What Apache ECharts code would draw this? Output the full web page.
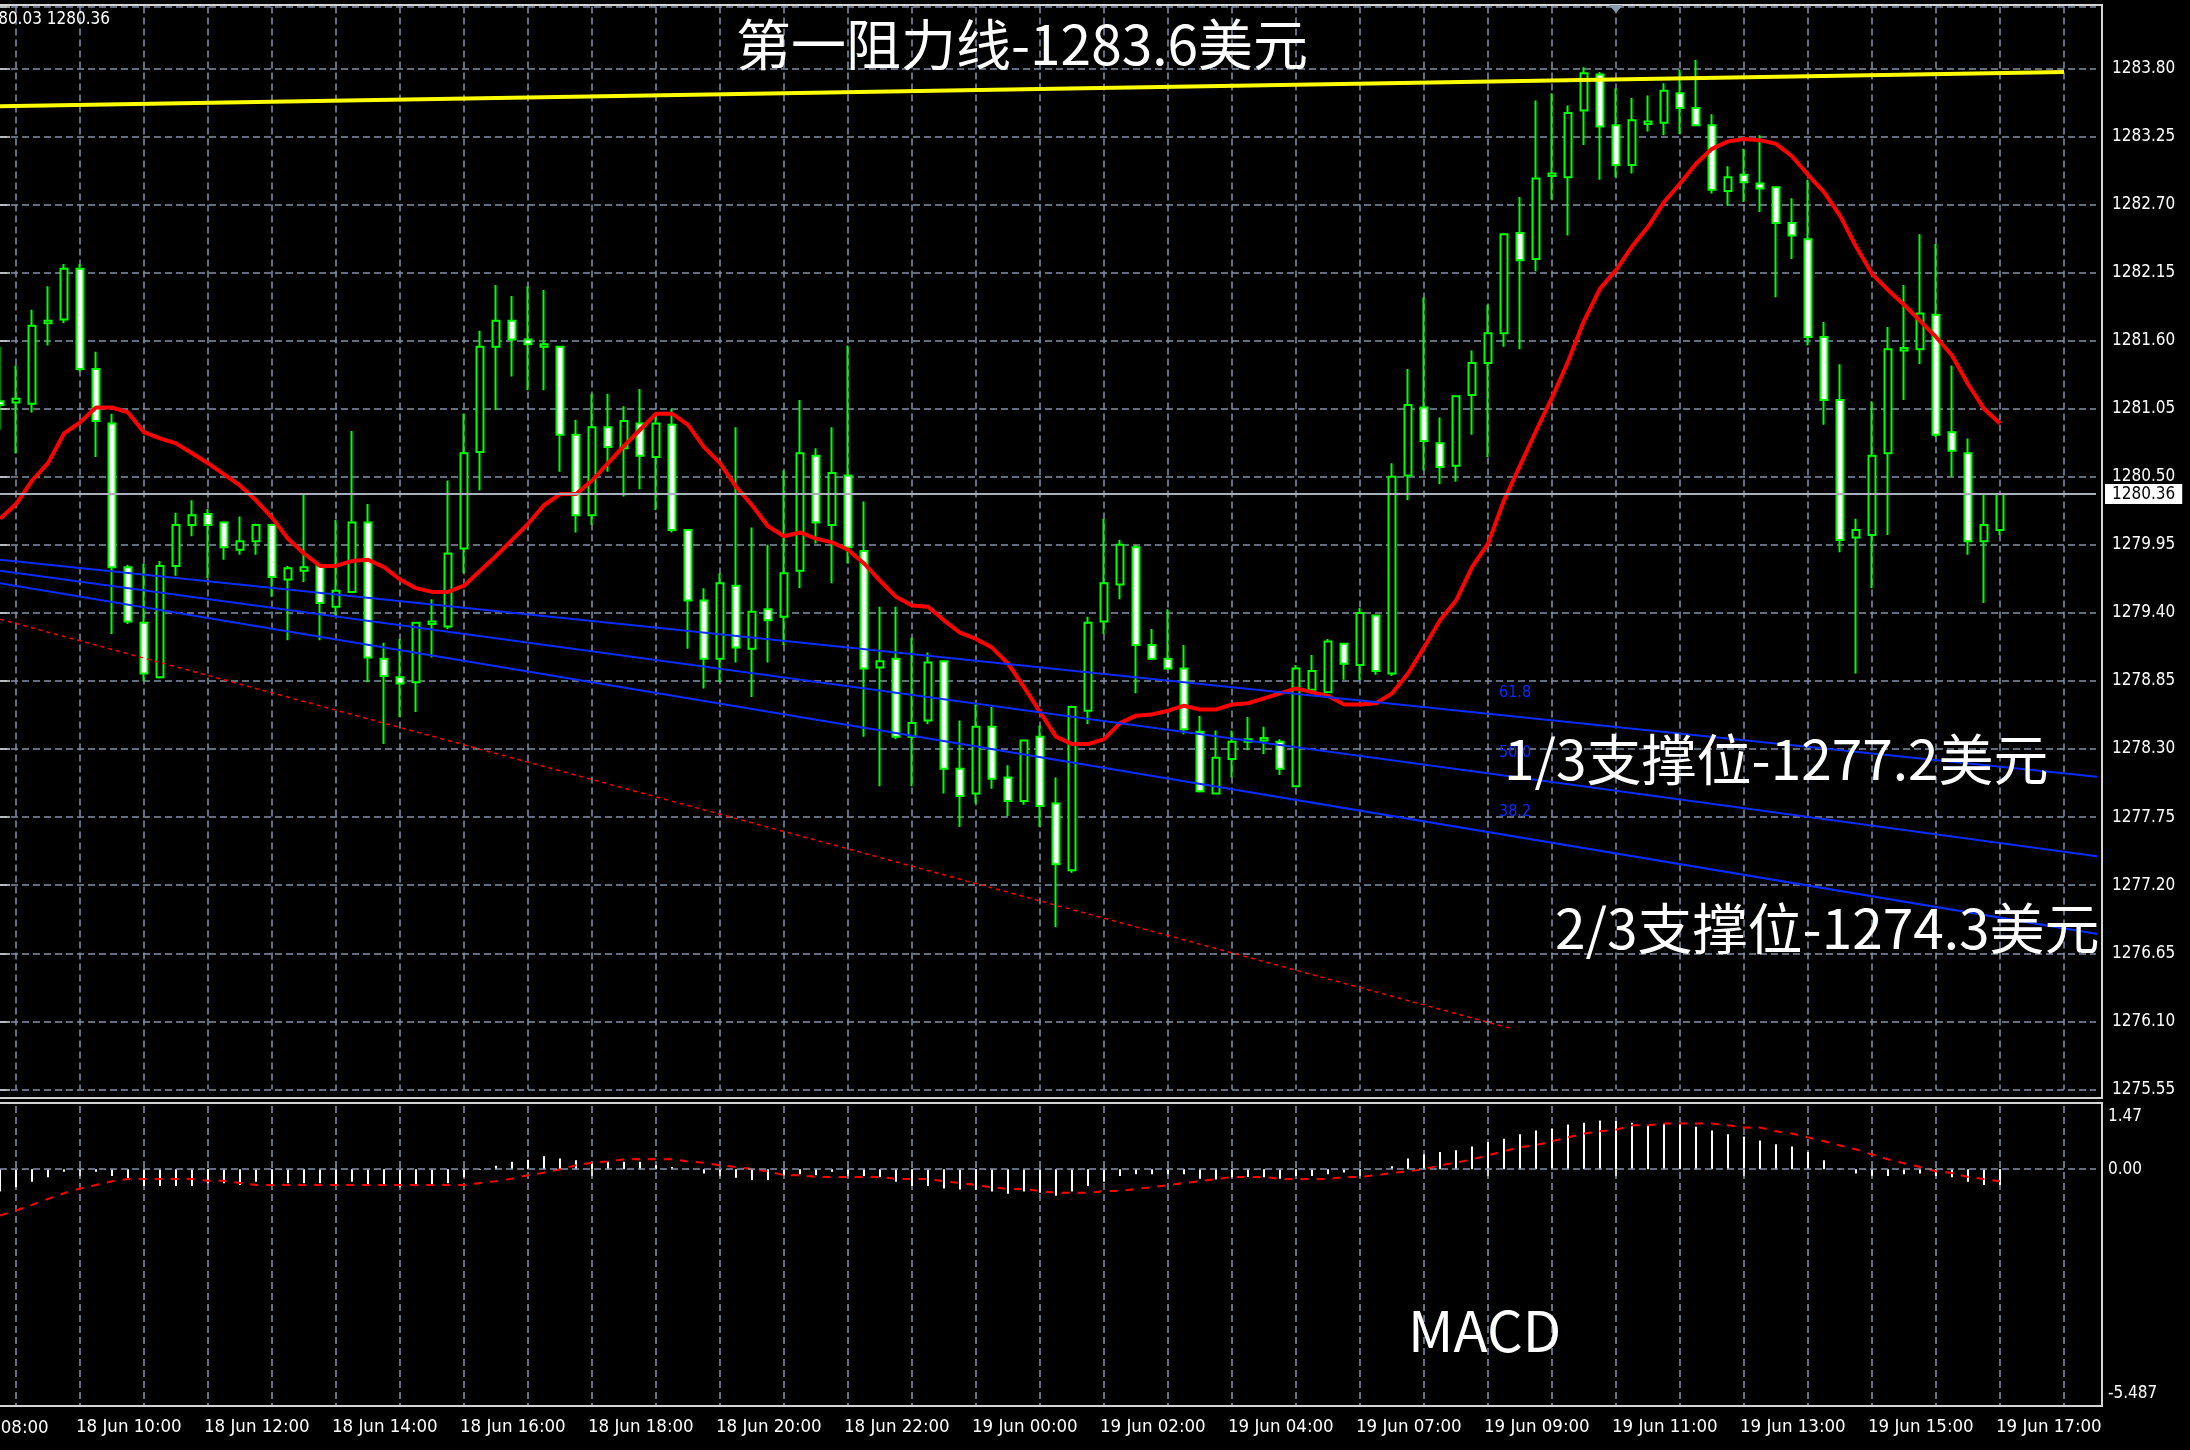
<!DOCTYPE html>
<html><head><meta charset="utf-8">
<script src="https://cdn.jsdelivr.net/npm/echarts@6/dist/echarts.min.js"></script>
<style>html,body{margin:0;padding:0;background:#000;overflow:hidden}#c{width:2190px;height:1450px}</style>
</head><body><div id="c"></div>
<script>
// ---------- data (XAUUSD M15) ----------
const tickLabels = ['18 Jun 10:00','18 Jun 12:00','18 Jun 14:00','18 Jun 16:00','18 Jun 18:00','18 Jun 20:00','18 Jun 22:00','19 Jun 00:00','19 Jun 02:00','19 Jun 04:00','19 Jun 07:00','19 Jun 09:00','19 Jun 11:00','19 Jun 13:00','19 Jun 15:00','19 Jun 17:00'];
const firstTickBar = 5, barsPerTick = 8, gridEveryBars = 4, firstGridBar = 1;
const totalSlots = 132;

const opens = [1281.11,1281.10,1281.09,1281.74,1281.77,1282.18,1281.37,1280.93,1279.77,1279.32,
1278.88,1279.78,1280.11,1280.20,1280.13,1279.91,1279.98,1280.11,1279.67,1279.74,
1279.78,1279.45,1279.57,1280.13,1279.03,1278.88,1278.84,1279.31,1279.29,1279.92,
1280.70,1281.55,1281.76,1281.61,1281.55,1281.55,1280.84,1280.19,1280.90,1280.73,
1280.93,1280.66,1280.92,1280.07,1279.50,1279.03,1279.62,1279.11,1279.43,1279.37,
1279.74,1280.67,1280.11,1280.51,1279.90,1278.96,1279.03,1278.40,1278.53,1279.01,
1278.14,1277.94,1278.48,1278.07,1277.88,1278.40,1277.86,1277.32,1278.61,1279.33,
1279.63,1279.93,1279.14,1279.03,1278.95,1278.44,1277.94,1278.22,1278.36,1278.37,
1278.36,1278.00,1278.78,1278.76,1279.15,1278.98,1279.38,1278.91,1280.51,1281.06,
1280.77,1280.59,1281.16,1281.42,1281.66,1282.47,1282.26,1282.93,1282.92,1283.46,
1283.75,1283.34,1283.02,1283.35,1283.36,1283.60,1283.48,1283.34,1282.81,1282.94,
1282.87,1282.84,1282.55,1282.42,1281.63,1281.12,1280.01,1280.03,1280.69,1281.52,
1281.53,1281.81,1280.86,1280.69,1279.98,1280.07];
const highs = [1281.55,1281.40,1281.85,1282.04,1282.22,1282.22,1281.51,1281.01,1279.79,1279.80,
1279.82,1280.21,1280.31,1280.24,1280.13,1280.18,1280.12,1280.11,1279.78,1280.37,
1279.78,1280.15,1280.87,1280.28,1279.16,1279.19,1279.32,1279.51,1280.47,1281.01,
1281.68,1282.05,1281.96,1282.04,1282.01,1281.55,1280.96,1281.17,1281.17,1281.07,
1281.21,1281.01,1281.05,1280.07,1279.60,1279.72,1280.90,1280.09,1279.95,1280.55,
1281.12,1280.73,1280.90,1281.56,1280.30,1279.45,1279.45,1279.20,1279.08,1279.01,
1278.53,1278.67,1278.64,1278.17,1278.37,1278.49,1278.07,1278.65,1279.37,1280.16,
1279.99,1279.95,1279.27,1279.43,1279.14,1278.57,1278.45,1278.45,1278.56,1278.48,
1278.38,1278.98,1279.06,1279.19,1279.15,1279.44,1279.38,1280.61,1281.37,1281.95,
1280.98,1281.15,1281.52,1281.89,1282.46,1282.76,1283.54,1283.60,1283.50,1283.81,
1283.77,1283.64,1283.56,1283.58,1283.68,1283.79,1283.87,1283.43,1283.01,1283.15,
1283.26,1282.84,1282.75,1282.90,1281.75,1281.41,1280.16,1281.11,1281.71,1282.05,
1282.46,1282.38,1281.40,1280.81,1280.37,1280.37];
const lows = [1280.88,1280.69,1281.02,1281.56,1281.74,1281.35,1280.66,1279.23,1279.31,1278.85,
1278.87,1279.70,1280.02,1279.68,1279.83,1279.87,1279.87,1279.53,1279.18,1279.65,
1279.18,1279.37,1279.56,1278.84,1278.34,1278.56,1278.60,1279.04,1279.27,1279.72,
1280.39,1281.04,1281.31,1281.20,1281.20,1280.54,1280.05,1280.11,1280.54,1280.34,
1280.40,1280.23,1280.05,1279.11,1278.79,1278.84,1279.00,1278.72,1279.00,1279.14,
1279.60,1279.96,1279.64,1279.80,1278.40,1278.00,1278.38,1278.00,1278.50,1277.94,
1277.67,1277.86,1277.98,1277.76,1277.85,1277.67,1276.86,1277.30,1278.50,1279.23,
1279.51,1278.75,1279.02,1278.94,1278.42,1277.95,1277.94,1278.07,1278.29,1278.26,
1278.09,1278.00,1278.75,1278.75,1278.86,1278.86,1278.90,1278.89,1280.31,1280.55,
1280.44,1280.46,1280.84,1280.66,1281.55,1281.53,1282.16,1282.74,1282.45,1283.18,
1282.90,1282.92,1282.95,1283.29,1283.26,1283.27,1283.34,1282.79,1282.69,1282.72,
1282.64,1281.95,1282.26,1281.56,1280.92,1279.89,1278.91,1279.60,1280.03,1281.12,
1281.41,1280.82,1280.50,1279.87,1279.48,1280.03];
const closes = [1281.08,1281.13,1281.72,1281.76,1282.18,1281.37,1280.95,1279.77,1279.33,1278.91,
1279.78,1280.11,1280.19,1280.11,1279.93,1279.98,1280.11,1279.69,1279.76,1279.77,
1279.48,1279.58,1280.13,1279.04,1278.89,1278.83,1279.32,1279.33,1279.88,1280.69,
1281.55,1281.76,1281.61,1281.57,1281.57,1280.84,1280.19,1280.90,1280.74,1280.95,
1280.67,1280.93,1280.07,1279.50,1279.03,1279.64,1279.12,1279.41,1279.34,1279.72,
1280.69,1280.13,1280.53,1279.93,1278.95,1279.01,1278.40,1278.51,1279.00,1278.14,
1277.92,1278.48,1278.06,1277.88,1278.37,1277.84,1277.37,1278.64,1279.32,1279.64,
1279.95,1279.14,1279.03,1278.95,1278.46,1277.96,1278.23,1278.36,1278.38,1278.39,
1278.14,1278.95,1278.93,1279.17,1278.99,1279.40,1278.93,1280.50,1281.08,1280.79,
1280.58,1281.15,1281.42,1281.66,1282.46,1282.25,1282.91,1282.95,1283.44,1283.76,
1283.33,1283.02,1283.38,1283.37,1283.62,1283.48,1283.34,1282.82,1282.92,1282.88,
1282.83,1282.55,1282.45,1281.63,1281.12,1279.99,1280.07,1280.67,1281.53,1281.54,
1281.82,1280.84,1280.71,1279.98,1280.11,1280.36];
const maValues = [1280.16,1280.28,1280.47,1280.61,1280.85,1280.94,1281.06,1281.06,1281.02,1280.86,
1280.81,1280.77,1280.69,1280.61,1280.52,1280.43,1280.31,1280.17,1280.00,1279.88,
1279.78,1279.78,1279.82,1279.83,1279.77,1279.67,1279.60,1279.57,1279.57,1279.62,
1279.74,1279.86,1279.99,1280.12,1280.27,1280.36,1280.36,1280.47,1280.61,1280.75,
1280.88,1281.01,1281.01,1280.92,1280.74,1280.61,1280.42,1280.27,1280.10,1280.02,
1280.05,1280.00,1279.97,1279.91,1279.80,1279.66,1279.53,1279.46,1279.45,1279.34,
1279.24,1279.19,1279.12,1278.99,1278.80,1278.60,1278.40,1278.34,1278.34,1278.38,
1278.51,1278.57,1278.58,1278.61,1278.65,1278.62,1278.62,1278.66,1278.67,1278.71,
1278.75,1278.79,1278.76,1278.73,1278.66,1278.66,1278.67,1278.75,1278.91,1279.12,
1279.34,1279.50,1279.77,1279.96,1280.31,1280.59,1280.87,1281.14,1281.43,1281.76,
1282.02,1282.17,1282.36,1282.52,1282.72,1282.87,1283.03,1283.15,1283.21,1283.23,
1283.22,1283.19,1283.09,1282.94,1282.80,1282.61,1282.36,1282.14,1282.01,1281.89,
1281.76,1281.63,1281.48,1281.25,1281.05,1280.93];
const macdHist = [-0.52,-0.42,-0.29,-0.19,-0.06,-0.04,-0.06,-0.16,-0.22,-0.39,
-0.39,-0.39,-0.39,-0.33,-0.33,-0.37,-0.29,-0.37,-0.33,-0.33,
-0.33,-0.37,-0.29,-0.37,-0.37,-0.42,-0.37,-0.37,-0.33,-0.19,
-0.02,0.08,0.17,0.22,0.30,0.25,0.21,0.13,0.17,0.17,
0.17,0.09,0.05,0.01,-0.10,-0.06,-0.20,-0.25,-0.25,-0.14,
-0.12,-0.14,-0.06,-0.10,-0.16,-0.18,-0.29,-0.39,-0.39,-0.45,
-0.47,-0.48,-0.52,-0.57,-0.52,-0.55,-0.62,-0.52,-0.39,-0.29,
-0.16,-0.12,-0.12,-0.12,-0.12,-0.22,-0.24,-0.19,-0.18,-0.19,
-0.22,-0.16,-0.16,-0.12,-0.08,-0.02,0.00,0.07,0.25,0.35,
0.40,0.44,0.53,0.63,0.71,0.81,0.90,0.94,1.04,1.08,
1.13,1.12,1.08,1.02,1.07,1.05,0.99,0.90,0.81,0.76,
0.67,0.58,0.53,0.40,0.21,0.01,-0.10,-0.14,-0.16,-0.12,
-0.10,-0.16,-0.19,-0.29,-0.37,-0.37];
const macdSignal = [-1.08,-0.96,-0.83,-0.69,-0.56,-0.45,-0.37,-0.28,-0.23,-0.23,
-0.23,-0.23,-0.23,-0.27,-0.27,-0.32,-0.37,-0.37,-0.37,-0.37,
-0.37,-0.37,-0.37,-0.37,-0.37,-0.37,-0.37,-0.37,-0.37,-0.37,
-0.32,-0.28,-0.22,-0.14,-0.08,0.00,0.09,0.15,0.18,0.23,
0.23,0.23,0.23,0.18,0.15,0.09,0.05,0.00,-0.05,-0.14,
-0.14,-0.18,-0.18,-0.18,-0.18,-0.18,-0.23,-0.23,-0.23,-0.28,
-0.32,-0.37,-0.42,-0.46,-0.46,-0.51,-0.55,-0.55,-0.55,-0.51,
-0.51,-0.46,-0.42,-0.37,-0.32,-0.28,-0.23,-0.18,-0.18,-0.18,
-0.23,-0.23,-0.23,-0.23,-0.18,-0.18,-0.14,-0.09,-0.05,0.00,
0.09,0.15,0.23,0.32,0.42,0.51,0.56,0.65,0.74,0.83,
0.88,0.92,1.02,1.02,1.06,1.06,1.06,1.06,1.02,0.97,
0.97,0.88,0.83,0.74,0.65,0.55,0.46,0.34,0.23,0.14,
0.05,-0.05,-0.09,-0.18,-0.23,-0.28];
// drawn objects: [barIndex, price] end points
const resistanceLine = [[0, 1283.495], [129, 1283.77]];
const fanLine618 = [[0, 1279.83], [131.375, 1278.073]];
const fanLine500 = [[0, 1279.74], [131.375, 1277.428]];
const fanLine382 = [[0, 1279.64], [131.375, 1276.80]];
const fanBaseLine = [[0, 1279.35], [94.5, 1276.04]];
const fanLabelBar = 93.69;
const currentPrice = 1280.36;
const priceTicks = { first: 1275.55, step: 0.55, top: 1284.30 };
const macdTicks = [-5.487, 0, 1.47];
const infoLine = 'XAUUSD,M15  1280.07 1280.37 1280.03 1280.36';

// ---------- build ----------
const base = priceTicks.first;
const cats = Array.from({length: totalSlots}, (_, i) => 'b' + i);
const candleData = opens.map((o, i) => [o - base, closes[i] - base, lows[i] - base, highs[i] - base]);
const sh = arr => arr.map(p => [p[0], p[1] - base]);
const lerp = (ln, x) => ln[0][1] + (ln[1][1] - ln[0][1]) * (x - ln[0][0]) / (ln[1][0] - ln[0][0]);

const axisFont = "'DejaVu Sans Condensed','DejaVu Sans',sans-serif";
const cjkFont = "'Noto Sans CJK SC','Noto Sans',sans-serif";
const gridColor = '#8293a6';
const borderColor = '#d4d4d4';
const fanBlue = '#0a2cff';
const gridFn = idx => idx >= 0 && (idx - firstGridBar) % gridEveryBars === 0;
const tickFn = idx => idx >= firstTickBar && (idx - firstTickBar) % barsPerTick === 0 && (idx - firstTickBar) / barsPerTick < tickLabels.length;

const GL = 0, GW = 16 * (totalSlots - 1);   // 16 px per bar
const chart = echarts.init(document.getElementById('c'), null, {renderer: 'canvas'});

function fanSeries(name, line, label) {
  return {
    name, type: 'line', xAxisIndex: 2, yAxisIndex: 0, data: sh(line), symbol: 'none', silent: true,
    lineStyle: {color: fanBlue, width: 2}, z: 4, clip: false,
    markPoint: {
      symbol: 'circle', symbolSize: 0, silent: true,
      data: [{coord: [fanLabelBar, lerp(line, fanLabelBar) - base],
        label: {show: true, formatter: label, position: 'inside', align: 'left', verticalAlign: 'middle', offset: [0, -22],
          color: fanBlue, fontSize: 16, fontFamily: axisFont}}]
    }
  };
}

const option = {
  backgroundColor: '#000000',
  animation: false,
  grid: [
    {left: GL, top: 6.5, width: GW, height: 1082.9},
    {left: GL, top: 1106, width: GW, height: 299}
  ],
  xAxis: [
    {type: 'category', gridIndex: 0, data: cats, boundaryGap: false,
      axisLine: {show: false}, axisTick: {show: false}, axisLabel: {show: false},
      splitLine: {show: true, interval: gridFn, lineStyle: {color: gridColor, type: [7, 4], width: 1.5}}},
    {type: 'category', gridIndex: 1, data: cats, boundaryGap: false,
      axisLine: {show: false},
      axisTick: {show: true, interval: tickFn, length: 7, lineStyle: {color: borderColor, width: 2}},
      axisLabel: {show: true, interval: tickFn, align: 'left', margin: 13, color: '#ffffff', fontSize: 18.5, fontFamily: axisFont,
        formatter: (v, idx) => { const k = (idx - firstTickBar) / barsPerTick; return '{t|' + (tickLabels[k] || '') + '}'; },
        rich: {t: {color: '#ffffff', fontSize: 18.5, fontFamily: axisFont, padding: [0, 0, 0, -4]}}},
      splitLine: {show: true, interval: gridFn, lineStyle: {color: gridColor, type: [7, 4], width: 1.5}}},
    {type: 'value', gridIndex: 0, min: 0, max: totalSlots - 1, show: false}
  ],
  yAxis: [
    {type: 'value', gridIndex: 0, position: 'right', min: 0, max: priceTicks.top - base, interval: priceTicks.step,
      axisLine: {show: false},
      axisTick: {show: true, length: 10, lineStyle: {color: borderColor, width: 1.5}},
      axisLabel: {color: '#ffffff', fontSize: 17, fontFamily: axisFont, margin: 16,
        formatter: v => (v > priceTicks.top - base - 0.3) ? '' : (v + base).toFixed(2)},
      splitLine: {show: true, lineStyle: {color: gridColor, type: [7, 4], width: 1.5}}},
    {type: 'value', gridIndex: 1, position: 'right', min: macdTicks[0], max: macdTicks[2],
      axisLine: {show: false}, axisTick: {show: false}, splitLine: {show: false},
      axisLabel: {customValues: macdTicks, showMinLabel: true, showMaxLabel: true, color: '#ffffff', fontSize: 17, fontFamily: axisFont, margin: 12,
        formatter: v => Math.abs(v - macdTicks[2]) < 1e-6 ? '{a|' + macdTicks[2].toFixed(2) + '}' :
          (Math.abs(v) < 1e-6 ? '0.00' : '{b|' + macdTicks[0].toFixed(3) + '}'),
        rich: {a: {padding: [22, 0, 0, 0], color: '#fff', fontSize: 17, fontFamily: axisFont},
               b: {padding: [0, 0, 22, 0], color: '#fff', fontSize: 17, fontFamily: axisFont}}}}
  ],
  series: [
    {name: 'price', type: 'candlestick', xAxisIndex: 0, yAxisIndex: 0, data: candleData, barWidth: 7, z: 2,
      itemStyle: {color: '#000000', color0: '#ffffff', borderColor: '#00ff00', borderColor0: '#00ff00', borderColorDoji: '#00ff00', borderWidth: 2},
      markLine: {symbol: 'none', silent: true, animation: false,
        lineStyle: {color: '#a7afb8', width: 2, type: 'solid'},
        label: {show: true, position: 'end', distance: 9, formatter: currentPrice.toFixed(2), backgroundColor: '#ffffff', color: '#000000',
          padding: [2, 7, 1, 7], fontSize: 17, fontFamily: axisFont},
        data: [{yAxis: currentPrice - base}]}},
    {name: 'MA', type: 'line', xAxisIndex: 0, yAxisIndex: 0, data: maValues.map(v => v - base), symbol: 'none', z: 3,
      lineStyle: {color: '#ff0000', width: 4}},
    fanSeries('fan61.8', fanLine618, '61.8'),
    fanSeries('fan50.0', fanLine500, '50.0'),
    fanSeries('fan38.2', fanLine382, '38.2'),
    {name: 'fanBase', type: 'line', xAxisIndex: 2, yAxisIndex: 0, data: sh(fanBaseLine), symbol: 'none', z: 4,
      lineStyle: {color: '#ff0000', width: 1.5, type: [4, 4]}},
    {name: 'resistance', type: 'line', xAxisIndex: 2, yAxisIndex: 0, data: sh(resistanceLine), symbol: 'none', z: 4,
      lineStyle: {color: '#ffff00', width: 4}},
    {name: 'MACD', type: 'bar', xAxisIndex: 1, yAxisIndex: 1, data: macdHist, barWidth: 2, itemStyle: {color: '#ffffff'}, z: 2,
      markLine: {symbol: 'none', silent: true, label: {show: false}, lineStyle: {color: gridColor, type: [7, 4], width: 1.5}, data: [{yAxis: 0}]}},
    {name: 'Signal', type: 'line', xAxisIndex: 1, yAxisIndex: 1, data: macdSignal, symbol: 'none', z: 3,
      lineStyle: {color: '#ff0000', width: 2, type: [8, 8]}}
  ],
  graphic: [
    {type: 'line', z: 100, shape: {x1: 0, y1: 5, x2: 2103, y2: 5}, style: {stroke: borderColor, lineWidth: 2}},
    {type: 'line', z: 100, shape: {x1: 2102, y1: 4, x2: 2102, y2: 1099}, style: {stroke: borderColor, lineWidth: 2}},
    {type: 'line', z: 100, shape: {x1: 0, y1: 1098, x2: 2103, y2: 1098}, style: {stroke: borderColor, lineWidth: 2}},
    {type: 'line', z: 100, shape: {x1: 0, y1: 1103, x2: 2103, y2: 1103}, style: {stroke: borderColor, lineWidth: 2}},
    {type: 'line', z: 100, shape: {x1: 2102, y1: 1102, x2: 2102, y2: 1407}, style: {stroke: borderColor, lineWidth: 2}},
    {type: 'line', z: 100, shape: {x1: 0, y1: 1406, x2: 2103, y2: 1406}, style: {stroke: borderColor, lineWidth: 2}},
    {type: 'polygon', z: 100, shape: {points: [[1609, 5], [1623, 5], [1616, 13]]}, style: {fill: '#8a9bb0'}},
    {type: 'text', z: 100, x: 110, y: 20, style: {text: infoLine, fill: '#ffffff', fontSize: 17, fontFamily: axisFont, align: 'right', verticalAlign: 'middle'}},
    {type: 'text', z: 100, x: -57, y: 1428, style: {text: '18 Jun 08:00', fill: '#ffffff', fontSize: 18.5, fontFamily: axisFont, align: 'left', verticalAlign: 'middle'}},
    {type: 'text', z: 100, x: 736, y: 44, style: {text: '第一阻力线-1283.6美元', fill: '#ffffff', fontSize: 55, fontFamily: cjkFont, align: 'left', verticalAlign: 'middle'}},
    {type: 'text', z: 100, x: 1504, y: 759, style: {text: '1/3支撑位-1277.2美元', fill: '#ffffff', fontSize: 55, fontFamily: cjkFont, align: 'left', verticalAlign: 'middle'}},
    {type: 'text', z: 100, x: 1555, y: 928, style: {text: '2/3支撑位-1274.3美元', fill: '#ffffff', fontSize: 55, fontFamily: cjkFont, align: 'left', verticalAlign: 'middle'}},
    {type: 'text', z: 100, x: 1408, y: 1331, style: {text: 'MACD', fill: '#ffffff', fontSize: 56, fontFamily: cjkFont, align: 'left', verticalAlign: 'middle'}}
  ]
};
chart.setOption(option);
</script>
</body></html>
